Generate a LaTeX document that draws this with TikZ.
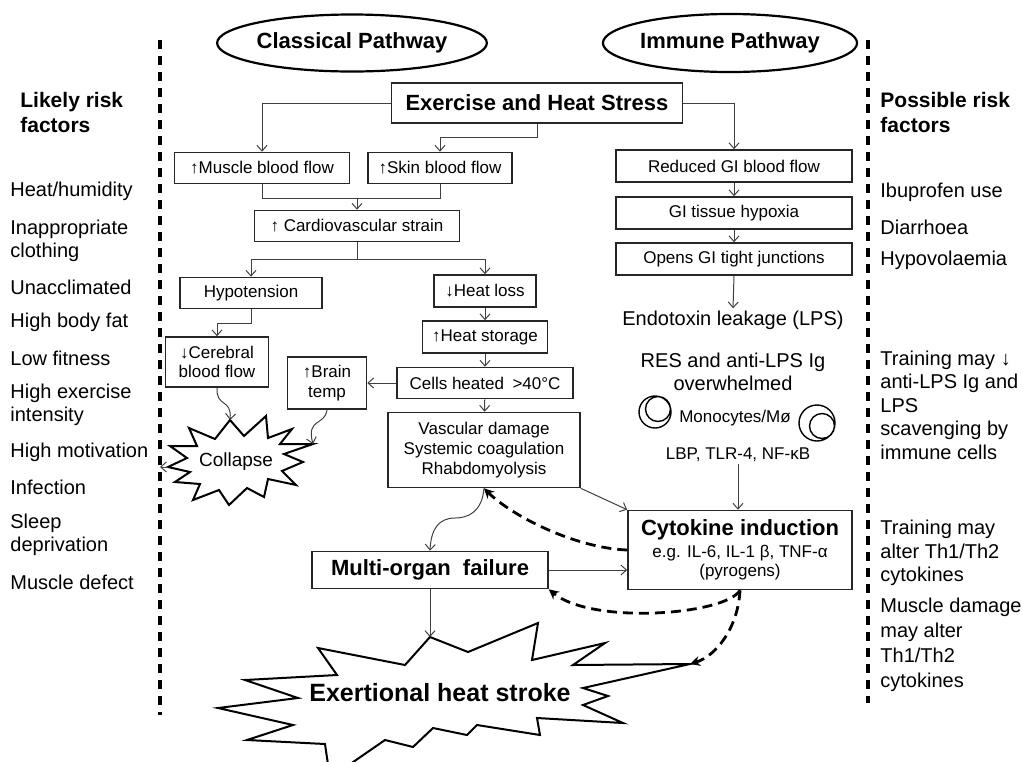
\documentclass[tikz,border=0pt]{standalone}
\usepackage{fontspec}
\setmainfont{Liberation Sans}
\usetikzlibrary{arrows.meta,positioning,shapes.geometric}

\begin{document}
\begin{tikzpicture}[
  x=0.5pt, y=-0.5pt,
  box/.style={
    rectangle,
    draw=black!85,
    line width=0.8pt,
    align=center,
    font=\fontsize{8.5}{9.8}\selectfont,
    minimum height=15.5pt,
    inner sep=1pt
  },
  bigbox/.style={box, font=\fontsize{11}{13}\selectfont\bfseries},
  pathway/.style={ellipse, draw, line width=1.1pt, inner sep=0pt,
    font=\fontsize{11}{13}\selectfont\bfseries},
  risk/.style={anchor=west, inner sep=0pt, align=left,
    font=\fontsize{10}{11.75}\selectfont},
  riskhead/.style={risk, font=\fontsize{10.5}{12.5}\selectfont\bfseries},
  txt/.style={inner sep=1pt, align=center, font=\fontsize{10}{11.5}\selectfont},
  small/.style={txt, font=\fontsize{8.5}{10}\selectfont},
  link/.style={draw=black!75, line width=0.5pt},
  flow/.style={link, -{Straight Barb[length=2.8pt,width=5pt]}},
  fback/.style={line width=1.4pt, dash pattern=on 5pt off 3pt,
    -{Stealth[length=5pt,width=5pt]}},
  burst/.style={draw, line width=1pt, fill=white, line join=miter},
  divider/.style={line width=1.6pt, dash pattern=on 4.5pt off 3.5pt}
]
\clip (0,0) rectangle (1022,761);

% risk factor columns
\draw[divider] (160,40) -- (160,715);
\draw[divider] (868,40) -- (868,703);

\node[riskhead] (likely) at (20,112) {Likely risk\\factors};
\node[risk] (r1) at (10,191) {Heat/humidity};
\node[risk] (r2) at (10,241) {Inappropriate\\clothing};
\node[risk] (r3) at (10,287) {Unacclimated};
\node[risk] (r4) at (10,322) {High body fat};
\node[risk] (r5) at (10,358) {Low fitness};
\node[risk] (r6) at (10,405) {High exercise\\intensity};
\node[risk] (r7) at (10,452) {High motivation};
\node[risk] (r8) at (10,487) {Infection};
\node[risk] (r9) at (10,535) {Sleep\\deprivation};
\node[risk] (r10) at (10,582) {Muscle defect};

\node[riskhead] (possible) at (880,112) {Possible risk\\factors};
\node[risk] (p1) at (880,192) {Ibuprofen use};
\node[risk] (p2) at (880,227) {Diarrhoea};
\node[risk] (p3) at (880,260) {Hypovolaemia};
\node[risk] (p4) at (880,405) {Training may ↓\\anti-LPS Ig and\\LPS\\scavenging by\\immune cells};
\node[risk] (p5) at (880,553) {Training may\\alter Th1/Th2\\cytokines};
\node[risk, font=\fontsize{10}{12.5}\selectfont] (p6) at (880,645) {Muscle damage\\may alter\\Th1/Th2\\cytokines};

% pathway headings
\node[pathway, minimum width=117.5pt, minimum height=28.5pt] (classical) at (352,43) {Classical Pathway};
\node[pathway, minimum width=113pt, minimum height=29pt] (immune) at (730,43) {Immune Pathway};

% classical pathway
\node[bigbox, minimum width=145.5pt, minimum height=20pt] (exer) at (537,103) {Exercise and Heat Stress};
\node[box, minimum width=87.5pt] (muscle) at (262,168) {↑Muscle blood flow};
\node[box, minimum width=72pt] (skin) at (440,168) {↑Skin blood flow};
\node[box, minimum width=102.5pt] (cardio) at (357,226) {↑ Cardiovascular strain};
\node[box, minimum width=71pt] (hypo) at (251,293) {Hypotension};
\node[box, minimum width=51pt, minimum height=16pt] (hloss) at (485,291) {↓Heat loss};
\node[box, minimum width=62.5pt, minimum height=16pt] (hstore) at (485,337) {↑Heat storage};
\node[box, minimum width=88pt] (cells) at (485,383) {Cells heated\enspace>40°C};
\node[box, minimum width=96pt, minimum height=37.5pt] (vasc) at (484,450) {Vascular damage\\Systemic coagulation\\Rhabdomyolysis};
\node[box, minimum width=51.5pt, minimum height=25pt] (cereb) at (217,362) {↓Cerebral\\blood flow};
\node[box, minimum width=39.5pt, minimum height=26pt] (brain) at (327,383) {↑Brain\\temp};
\node[bigbox, minimum width=118pt, minimum height=18.5pt] (mof) at (430,570) {Multi-organ\ \ failure};

% immune pathway
\node[box, minimum width=118pt, minimum height=16pt] (gibf) at (734,166) {Reduced GI blood flow};
\node[box, minimum width=118pt, minimum height=16pt] (hypoxia) at (734,213) {GI tissue hypoxia};
\node[box, minimum width=118pt, minimum height=16pt] (tight) at (734,259) {Opens GI tight junctions};
\node[txt] (endo) at (733,320) {Endotoxin leakage (LPS)};
\node[txt] (res) at (733,372) {RES and anti-LPS Ig\\overwhelmed};
\node[small] (mono) at (735,418) {Monocytes/Mø};
\node[small] (lbp) at (738,455) {LBP, TLR-4, NF-κB};
\node[box, minimum width=112pt, minimum height=39.5pt] (cyto) at (740,550)
  {{\fontsize{11}{13}\selectfont\bfseries Cytokine induction}\\[1pt]e.g. IL-6, IL-1 β, TNF-α\\(pyrogens)};

% monocytes
\draw[line width=0.7pt] (655,412) circle[radius=16] (658,409) circle[radius=12.5];
\draw[line width=0.7pt] (817,423) circle[radius=18] (822,426) circle[radius=12.5];

% collapse burst
\draw[burst] (230,420) -- (244,436) -- (266,416) -- (268,438) -- (292,429) -- (280,444)
  -- (313,444) -- (284,454) -- (303,462) -- (282,471) -- (296,485) -- (268,479)
  -- (264,497) -- (247,488) -- (229,505) -- (219,490) -- (193,500) -- (200,484)
  -- (175,482) -- (190,472) -- (168,467) -- (187,458) -- (170,446) -- (197,446)
  -- (189,428) -- (215,439) -- cycle;
\node[txt, font=\fontsize{9.5}{10}\selectfont] (collapse) at (236,462) {Collapse};
\coordinate (collapse-top) at (230,420);
\coordinate (collapse-right) at (313,444);
\coordinate (collapse-left) at (168,467);
\coordinate (riskline) at (160,467);

% exertional heat stroke burst
\draw[burst] (430,637) -- (468,652) -- (538,623) -- (532,660) -- (605,643) -- (573,665)
  -- (690,664) -- (583,688) -- (608,696) -- (583,705) -- (623,723) -- (537,718)
  -- (540,735) -- (477,725) -- (467,735) -- (433,728) -- (413,747) -- (385,740)
  -- (330,778) -- (325,744) -- (247,740) -- (293,725) -- (218,708) -- (298,698)
  -- (245,680) -- (337,675) -- (318,648) -- (405,665) -- cycle;
\node[txt, font=\fontsize{12.5}{14}\selectfont\bfseries] (stroke) at (440,693) {Exertional heat stroke};
\coordinate (stroke-top) at (430,637);
\coordinate (stroke-tip) at (690,664);

% classical connectors
\draw[flow] (exer.west) -| (muscle.north);
\draw[flow] (exer.south) -- ++(0,14) -| (skin.north);
\draw[flow] (exer.east) -| (gibf.north);
\draw[link] (muscle.south) -- ++(0,14) coordinate (m1) -| (skin.south);
\draw[flow] (m1 -| cardio.north) -- (cardio.north);
\draw[link] (cardio.south) -- ++(0,17) coordinate (c1);
\draw[flow] (c1) -| (hypo.north);
\draw[flow] (c1) -| (hloss.north);
\draw[flow] (hypo.south) -- ++(0,14) -| (cereb.north);
\draw[flow] (hloss) -- (hstore);
\draw[flow] (hstore) -- (cells);
\draw[flow] (cells) -- (vasc);
\draw[flow] (cells.west) -- (brain.east);
\draw[flow] (cereb.south) .. controls (216,408) and (232,398) .. (collapse-top);
\draw[flow] (brain.south) .. controls (325,426) and (306,418) .. (collapse-right);
\draw[flow] (collapse-left) -- (riskline);
\draw[flow] (vasc.south) .. controls (482,512) and (468,518) .. (455,518)
  .. controls (438,518) and (431,530) .. (mof.north);
\draw[flow] (vasc.south east) -- (cyto.north west);
\draw[flow] (mof.east) -- (mof.east -| cyto.west);
\draw[flow] (mof.south) -- (stroke-top);

% immune connectors
\draw[flow] (gibf) -- (hypoxia);
\draw[flow] (hypoxia) -- (tight);
\draw[flow] (tight.south) -- (endo.north);
\draw[flow] (lbp.south) -- (lbp.south |- cyto.north);

% cytokine feedback
\draw[fback] (cyto.west) .. controls (575,548) and (512,516) .. (vasc.south);
\draw[fback] (cyto.south) .. controls (725,615) and (592,625) .. (mof.south east);
\draw[fback] (cyto.south) .. controls (738,628) and (716,656) .. (stroke-tip);

\end{tikzpicture}
\end{document}
